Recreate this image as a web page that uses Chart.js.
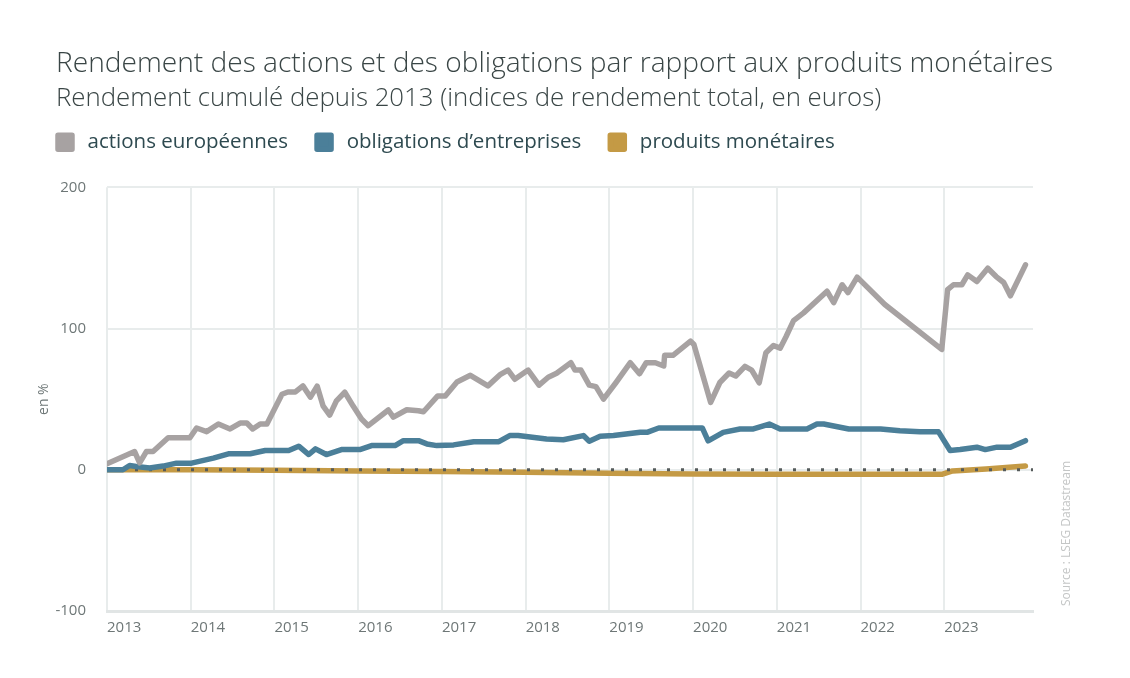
<!DOCTYPE html>
<html lang="fr">
<head>
<meta charset="utf-8">
<title>Rendement des actions et des obligations</title>
<script src="https://cdn.jsdelivr.net/npm/chart.js@4.4.1/dist/chart.umd.min.js"></script>
<style>
  html, body { margin: 0; padding: 0; background: #fff; }
  #wrap { width: 1130px; height: 678px; }
</style>
</head>
<body>
<div id="wrap"><canvas id="chart" width="1130" height="678"></canvas></div>
<script>
// values (x = year as decimal, y = cumulative return in %)
const yearTicks = [2013, 2014, 2015, 2016, 2017, 2018, 2019, 2020, 2021, 2022, 2023];

const actionsX = [2013.00, 2013.33, 2013.39, 2013.47, 2013.55, 2013.73, 2013.99, 2014.07, 2014.19, 2014.33,
  2014.47, 2014.59, 2014.67, 2014.74, 2014.83, 2014.91, 2015.09, 2015.16, 2015.25, 2015.34,
  2015.43, 2015.51, 2015.58, 2015.66, 2015.74, 2015.84, 2015.94, 2016.04, 2016.12, 2016.36,
  2016.42, 2016.58, 2016.72, 2016.78, 2016.95, 2017.04, 2017.18, 2017.34, 2017.55, 2017.70,
  2017.79, 2017.87, 2018.03, 2018.16, 2018.27, 2018.37, 2018.54, 2018.59, 2018.66, 2018.76,
  2018.84, 2018.93, 2019.08, 2019.25, 2019.36, 2019.44, 2019.55, 2019.65, 2019.66, 2019.76,
  2019.97, 2020.01, 2020.21, 2020.32, 2020.43, 2020.51, 2020.62, 2020.70, 2020.79, 2020.87,
  2020.96, 2021.04, 2021.11, 2021.20, 2021.32, 2021.60, 2021.68, 2021.78, 2021.85, 2021.96,
  2022.29, 2022.97, 2023.04, 2023.11, 2023.21, 2023.28, 2023.39, 2023.52, 2023.62, 2023.71,
  2023.79, 2023.97];
const actionsY = [4.2, 12.9, 4.9, 12.9, 12.9, 22.7, 22.7, 29.6, 27.0, 32.4,
  28.9, 33.1, 33.1, 28.9, 32.4, 32.4, 53.5, 55.1, 55.1, 59.4,
  51.4, 59.2, 45.3, 38.7, 48.8, 54.9, 45.1, 35.9, 31.2, 42.3,
  37.3, 42.5, 41.8, 41.1, 52.3, 52.3, 62.2, 66.9, 59.4, 67.6,
  70.6, 64.1, 70.6, 59.9, 65.5, 68.3, 75.8, 70.6, 70.6, 59.9,
  58.9, 50.0, 61.8, 75.8, 68.0, 75.8, 75.8, 73.5, 81.0, 81.0,
  91.1, 88.7, 47.7, 61.8, 68.5, 66.4, 73.2, 70.6, 61.6, 82.9,
  88.0, 86.1, 94.2, 105.6, 111.1, 126.4, 118.3, 131.0, 125.4, 136.4,
  117.0, 85.2, 127.5, 131.0, 131.0, 138.0, 133.3, 142.7, 136.8, 132.6,
  123.2, 145.1];

const obligationsX = [2013.00, 2013.19, 2013.27, 2013.35, 2013.51, 2013.67, 2013.83, 2014.01, 2014.27, 2014.45,
  2014.71, 2014.89, 2015.17, 2015.29, 2015.41, 2015.49, 2015.62, 2015.80, 2016.02, 2016.16,
  2016.44, 2016.54, 2016.72, 2016.82, 2016.94, 2017.14, 2017.38, 2017.68, 2017.81, 2017.91,
  2018.25, 2018.45, 2018.69, 2018.76, 2018.89, 2019.05, 2019.37, 2019.45, 2019.59, 2020.11,
  2020.18, 2020.36, 2020.56, 2020.72, 2020.91, 2021.04, 2021.36, 2021.48, 2021.56, 2021.86,
  2022.24, 2022.47, 2022.71, 2022.93, 2023.07, 2023.19, 2023.39, 2023.49, 2023.63, 2023.79,
  2023.97];
const obligationsY = [0, 0, 3.0, 2.3, 1.2, 2.6, 4.7, 4.7, 8.2, 11.3,
  11.3, 13.6, 13.6, 16.7, 10.8, 14.8, 10.8, 14.3, 14.3, 17.1,
  17.1, 20.6, 20.6, 18.3, 17.1, 17.6, 19.9, 19.9, 24.2, 24.2,
  21.8, 21.3, 24.2, 20.2, 23.7, 24.2, 26.5, 26.5, 29.6, 29.6,
  20.5, 26.5, 28.9, 28.9, 32.4, 28.9, 28.9, 32.4, 32.4, 28.9,
  28.9, 27.7, 27.0, 27.0, 13.6, 14.3, 16.0, 14.3, 16.0, 16.0,
  20.6];

const monetairesX = [2013.00, 2014.00, 2015.00, 2016.00, 2017.00, 2018.00, 2019.00, 2020.00, 2021.00, 2022.00,
  2022.97, 2023.10, 2023.50, 2023.97];
const monetairesY = [0, 0, -0.3, -0.8, -1.3, -1.8, -2.4, -3.0, -3.2, -3.2,
  -3.2, -0.8, 0.6, 2.6];

const zeroX = [2013, 2024.06];
const zeroY = [0, 0];

const toPoints = (xs, ys) => xs.map((x, i) => ({ x: x, y: ys[i] }));

// moves title/subtitle/legend after layout so the y-axis title can sit further left
const shiftBlocks = {
  id: 'shiftBlocks',
  afterLayout(chart) {
    chart.boxes.forEach(b => {
      if (b !== chart.legend && b.options && typeof b.options.text === 'string') {
        const w = b.right - b.left;
        b.left = 56;
        b.right = 56 + w;
      }
    });
    chart.legend.left = 29;
    chart.legend.top = 103;
  }
};

// small source note on the right
const sourceNote = {
  id: 'sourceNote',
  afterDraw(chart) {
    const ctx = chart.ctx;
    ctx.save();
    ctx.translate(1073, 606);
    ctx.rotate(-Math.PI / 2);
    ctx.font = '12px "Open Sans"';
    ctx.fillStyle = '#c4c6c6';
    ctx.textAlign = 'left';
    ctx.textBaseline = 'bottom';
    ctx.fillText('Source : LSEG Datastream', 0, 0);
    ctx.restore();
  }
};

const ctx = document.getElementById('chart').getContext('2d');
const chart = new Chart(ctx, {
  type: 'line',
  data: {
    datasets: [
      {
        label: ' actions européennes',
        data: toPoints(actionsX, actionsY),
        borderColor: '#a7a2a2',
        backgroundColor: '#a7a2a2',
      },
      {
        label: ' obligations d\u2019entreprises',
        data: toPoints(obligationsX, obligationsY),
        borderColor: '#4b7f99',
        backgroundColor: '#4b7f99',
      },
      {
        label: 'zero',
        data: toPoints(zeroX, zeroY),
        borderColor: '#555b5b',
        borderWidth: 3,
        borderDash: [3, 11],
        borderCapStyle: 'butt',
      },
      {
        label: ' produits monétaires',
        data: toPoints(monetairesX, monetairesY),
        borderColor: '#c49a45',
        backgroundColor: '#c49a45',
      },
    ],
  },
  options: {
    responsive: false,
    animation: false,
    events: [],
    elements: {
      point: { radius: 0 },
      line: { borderWidth: 5.5, tension: 0, borderJoinStyle: 'round', borderCapStyle: 'round', fill: false },
    },
    layout: { padding: { left: 36, right: 97, top: 0, bottom: 0 } },
    plugins: {
      title: {
        display: true,
        align: 'start',
        text: 'Rendement des actions et des obligations par rapport aux produits monétaires',
        color: '#3a4646',
        font: { family: '"Open Sans"', size: 28.2, weight: '300', lineHeight: 1.2 },
        padding: { top: 47, bottom: 2 },
      },
      subtitle: {
        display: true,
        align: 'start',
        text: 'Rendement cumulé depuis 2013 (indices de rendement total, en euros)',
        color: '#3a4646',
        font: { family: '"Open Sans"', size: 25.8, weight: '300', lineHeight: 1.2 },
        padding: { top: 0, bottom: 14 },
      },
      legend: {
        display: true,
        align: 'start',
        labels: {
          boxWidth: 14,
          boxHeight: 14,
          padding: 29,
          color: '#2e4a50',
          font: { family: '"Open Sans"', size: 20.5 },
          filter: item => item.text !== 'zero',
        },
      },
      tooltip: { enabled: false },
    },
    scales: {
      x: {
        type: 'linear',
        min: 2013,
        max: 2024.06,
        afterBuildTicks: scale => { scale.ticks = yearTicks.map(v => ({ value: v })); },
        afterFit: scale => { scale.height = 67; },
        grid: { color: '#e8ecec', lineWidth: 2, drawTicks: false },
        border: { display: true, color: '#e1e5e5', width: 3 },
        ticks: {
          align: 'start',
          padding: 8,
          color: '#6e7777',
          font: { family: '"Open Sans"', size: 15 },
          callback: v => String(v),
        },
      },
      y: {
        min: -100,
        max: 200,
        afterFit: scale => { scale.width = 71; },
        grid: { color: '#e8ecec', lineWidth: 2, drawTicks: false },
        border: { display: false },
        ticks: {
          stepSize: 100,
          padding: 21,
          color: '#6e7777',
          font: { family: '"Open Sans"', size: 15 },
        },
        title: {
          display: true,
          text: 'en %',
          color: '#6e7777',
          font: { family: '"Open Sans"', size: 14 },
          padding: 0,
        },
      },
    },
  },
  plugins: [shiftBlocks, sourceNote],
});
</script>
</body>
</html>
